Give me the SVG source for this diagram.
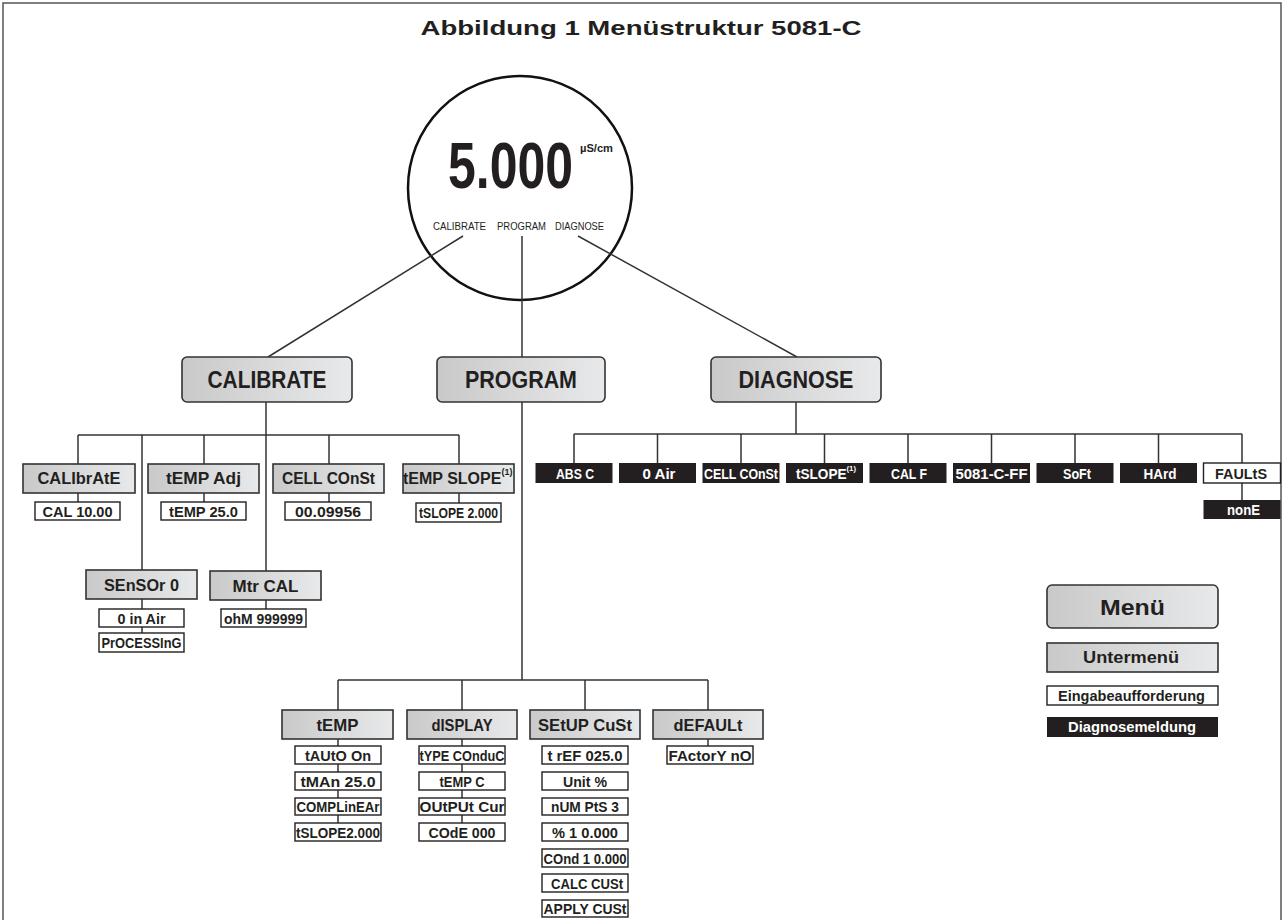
<svg xmlns="http://www.w3.org/2000/svg" width="1285" height="920" viewBox="0 0 1285 920">
<defs>
<linearGradient id="g" x1="0" y1="0" x2="1" y2="0">
<stop offset="0" stop-color="#c9c9ca"/>
<stop offset="1" stop-color="#e8e9ea"/>
</linearGradient>
<style>
.t{font-family:'Liberation Sans',Arial,sans-serif;font-weight:bold;text-anchor:middle;fill:#231f20}
.m{font-size:23px}
.s{font-size:17px}
.v{font-size:14px}
.d{font-size:14px;fill:#fff}
.sup{font-family:'Liberation Sans',Arial,sans-serif;font-weight:bold;font-size:8px;fill:#231f20}
.ln{stroke:#333;stroke-width:1.5;fill:none}
.mb{fill:url(#g);stroke:#333;stroke-width:1.6}
.vb{fill:#fff;stroke:#231f20;stroke-width:1.4}
.db{fill:#231f20}
.lbl{font-family:'Liberation Sans',Arial,sans-serif;font-size:10px;fill:#231f20}
</style>
</defs>
<rect width="1285" height="920" fill="#fff"/>
<path d="M3,920 V3 H1281 V920" fill="none" stroke="#555" stroke-width="1.5"/>
<text x="641" y="35" class="t" style="font-size:20px" textLength="441" lengthAdjust="spacingAndGlyphs">Abbildung 1 Menüstruktur 5081-C</text>

<g id="display">
<circle cx="520" cy="188" r="112" fill="none" stroke="#111" stroke-width="2.5"/>
<text transform="translate(448,188) scale(1,1.28)" x="0" y="0" class="t" style="font-size:50px;text-anchor:start" textLength="125" lengthAdjust="spacingAndGlyphs">5.000</text>
<text x="580" y="152" class="sup" style="font-size:10px" textLength="33" lengthAdjust="spacingAndGlyphs">µS/cm</text>
<text x="433" y="230" class="lbl" textLength="53" lengthAdjust="spacingAndGlyphs">CALIBRATE</text>
<text x="497" y="230" class="lbl" textLength="49" lengthAdjust="spacingAndGlyphs">PROGRAM</text>
<text x="555" y="230" class="lbl" textLength="49" lengthAdjust="spacingAndGlyphs">DIAGNOSE</text>
</g>

<g id="connectors" class="ln">
<line x1="463" y1="236" x2="268" y2="357"/>
<line x1="522" y1="236" x2="522" y2="357"/>
<line x1="578" y1="236" x2="797" y2="357"/>
<line x1="266" y1="402" x2="266" y2="571"/>
<line x1="78" y1="435" x2="459" y2="435"/>
<line x1="78" y1="435" x2="78" y2="464"/>
<line x1="142" y1="435" x2="142" y2="570"/>
<line x1="204" y1="435" x2="204" y2="464"/>
<line x1="329" y1="435" x2="329" y2="464"/>
<line x1="459" y1="435" x2="459" y2="464"/>
<line x1="78" y1="493" x2="78" y2="502"/>
<line x1="204" y1="493" x2="204" y2="502"/>
<line x1="329" y1="493" x2="329" y2="502"/>
<line x1="459" y1="493" x2="459" y2="503"/>
<line x1="142" y1="599" x2="142" y2="609"/>
<line x1="142" y1="627" x2="142" y2="633"/>
<line x1="266" y1="600" x2="266" y2="609"/>
<line x1="522" y1="402" x2="522" y2="680"/>
<line x1="338" y1="680" x2="708" y2="680"/>
<line x1="338" y1="680" x2="338" y2="710"/>
<line x1="462" y1="680" x2="462" y2="710"/>
<line x1="585" y1="680" x2="585" y2="710"/>
<line x1="708" y1="680" x2="708" y2="710"/>
<path d="M338,739V746M338,764V772M338,790V798M338,815V823"/>
<path d="M462,739V746M462,764V772M462,790V798M462,815V823"/>
<line x1="708" y1="739" x2="708" y2="746"/>
<line x1="796" y1="402" x2="796" y2="434"/>
<line x1="574" y1="434" x2="1242" y2="434"/>
<path d="M574,434V463M657.5,434V463M741,434V463M824.5,434V463M908,434V463M991.5,434V463M1075,434V463M1158.5,434V463M1242,434V463"/>
<line x1="1242" y1="483" x2="1242" y2="500"/>
</g>

<g id="calibrate"><rect class="mb" x="182" y="357" width="170" height="45" rx="5"/><text x="267" y="388" class="t m" textLength="119" lengthAdjust="spacingAndGlyphs">CALIBRATE</text></g>
<g id="program"><rect class="mb" x="437" y="357" width="168" height="45" rx="5"/><text x="521" y="388" class="t m" textLength="112" lengthAdjust="spacingAndGlyphs">PROGRAM</text></g>
<g id="diagnose"><rect class="mb" x="711" y="357" width="170" height="45" rx="5"/><text x="796" y="388" class="t m" textLength="115" lengthAdjust="spacingAndGlyphs">DIAGNOSE</text></g>

<g id="cal-calibrate"><rect class="mb" x="23" y="464" width="112" height="29"/><text x="79" y="484" class="t s" textLength="83" lengthAdjust="spacingAndGlyphs">CALIbrAtE</text></g>
<g id="cal-tempadj"><rect class="mb" x="148" y="464" width="111" height="29"/><text x="203.5" y="484" class="t s" textLength="75" lengthAdjust="spacingAndGlyphs">tEMP Adj</text></g>
<g id="cal-cellconst"><rect class="mb" x="273" y="464" width="111" height="29"/><text x="328.5" y="484" class="t s" textLength="93" lengthAdjust="spacingAndGlyphs">CELL COnSt</text></g>
<g id="cal-tempslope"><rect class="mb" x="403" y="464" width="111" height="29"/><text x="403" y="484" class="t" style="font-size:16px;text-anchor:start">tEMP SLOPE<tspan dy="-9" style="font-size:9px">(1)</tspan></text></g>
<g id="cal-sensor"><rect class="mb" x="86" y="570" width="111" height="29"/><text x="141.5" y="591" class="t s" textLength="75" lengthAdjust="spacingAndGlyphs">SEnSOr 0</text></g>
<g id="cal-mtrcal"><rect class="mb" x="210" y="571" width="111" height="29"/><text x="265.5" y="592" class="t s" textLength="66" lengthAdjust="spacingAndGlyphs">Mtr CAL</text></g>

<g id="v-cal1000"><rect class="vb" x="35" y="502" width="85" height="18"/><text x="77.5" y="517" class="t v" textLength="70" lengthAdjust="spacingAndGlyphs">CAL 10.00</text></g>
<g id="v-temp250"><rect class="vb" x="161" y="502" width="85" height="18"/><text x="203.5" y="517" class="t v" textLength="69" lengthAdjust="spacingAndGlyphs">tEMP 25.0</text></g>
<g id="v-cellconst"><rect class="vb" x="285" y="502" width="86" height="18"/><text x="328" y="517" class="t v" textLength="66" lengthAdjust="spacingAndGlyphs">00.09956</text></g>
<g id="v-tslope"><rect class="vb" x="416" y="503" width="85" height="19"/><text x="458.5" y="518" class="t v" textLength="79" lengthAdjust="spacingAndGlyphs">tSLOPE 2.000</text></g>
<g id="v-0inair"><rect class="vb" x="99" y="609" width="85" height="18"/><text x="141.5" y="624" class="t v" textLength="48" lengthAdjust="spacingAndGlyphs">0 in Air</text></g>
<g id="v-processing"><rect class="vb" x="99" y="633" width="85" height="19"/><text x="141.5" y="648" class="t v" textLength="80" lengthAdjust="spacingAndGlyphs">PrOCESSInG</text></g>
<g id="v-ohm"><rect class="vb" x="221" y="609" width="85" height="18"/><text x="263.5" y="624" class="t v" textLength="79" lengthAdjust="spacingAndGlyphs">ohM 999999</text></g>

<g id="prog-temp"><rect class="mb" x="282" y="710" width="111" height="29"/><text x="337.5" y="731" class="t s" textLength="42" lengthAdjust="spacingAndGlyphs">tEMP</text></g>
<g id="prog-display"><rect class="mb" x="407" y="710" width="110" height="29"/><text x="462" y="731" class="t s" textLength="61" lengthAdjust="spacingAndGlyphs">dISPLAY</text></g>
<g id="prog-setup"><rect class="mb" x="530" y="710" width="110" height="29"/><text x="585" y="731" class="t s" textLength="94" lengthAdjust="spacingAndGlyphs">SEtUP CuSt</text></g>
<g id="prog-default"><rect class="mb" x="653" y="710" width="110" height="29"/><text x="708" y="731" class="t s" textLength="69" lengthAdjust="spacingAndGlyphs">dEFAULt</text></g>

<g id="pv-tauto"><rect class="vb" x="295" y="746" width="86" height="18"/><text x="338" y="760.5" class="t v" textLength="66" lengthAdjust="spacingAndGlyphs">tAUtO On</text></g>
<g id="pv-tman"><rect class="vb" x="295" y="772" width="86" height="18"/><text x="338" y="786.5" class="t v" textLength="75" lengthAdjust="spacingAndGlyphs">tMAn 25.0</text></g>
<g id="pv-comp"><rect class="vb" x="295" y="798" width="86" height="17"/><text x="338" y="812" class="t v" textLength="83" lengthAdjust="spacingAndGlyphs">COMPLinEAr</text></g>
<g id="pv-tslope"><rect class="vb" x="295" y="823" width="86" height="18"/><text x="338" y="837.5" class="t v" textLength="84" lengthAdjust="spacingAndGlyphs">tSLOPE2.000</text></g>

<g id="pv-type"><rect class="vb" x="419" y="746" width="86" height="18"/><text x="462" y="760.5" class="t v" textLength="85" lengthAdjust="spacingAndGlyphs">tYPE COnduC</text></g>
<g id="pv-tempc"><rect class="vb" x="419" y="772" width="86" height="18"/><text x="462" y="786.5" class="t v" textLength="45" lengthAdjust="spacingAndGlyphs">tEMP C</text></g>
<g id="pv-output"><rect class="vb" x="419" y="798" width="86" height="17"/><text x="462" y="812" class="t v" textLength="85" lengthAdjust="spacingAndGlyphs">OUtPUt Cur</text></g>
<g id="pv-code"><rect class="vb" x="419" y="823" width="86" height="18"/><text x="462" y="837.5" class="t v" textLength="67" lengthAdjust="spacingAndGlyphs">COdE 000</text></g>

<g id="pv-tref"><rect class="vb" x="542" y="746" width="86" height="18"/><text x="585" y="760.5" class="t v" textLength="75" lengthAdjust="spacingAndGlyphs">t rEF 025.0</text></g>
<g id="pv-unit"><rect class="vb" x="542" y="772" width="86" height="18"/><text x="585" y="786.5" class="t v" textLength="44" lengthAdjust="spacingAndGlyphs">Unit %</text></g>
<g id="pv-num"><rect class="vb" x="542" y="798" width="86" height="17"/><text x="585" y="812" class="t v" textLength="68" lengthAdjust="spacingAndGlyphs">nUM PtS 3</text></g>
<g id="pv-pct"><rect class="vb" x="542" y="823" width="86" height="18"/><text x="585" y="837.5" class="t v" textLength="66" lengthAdjust="spacingAndGlyphs">% 1 0.000</text></g>
<g id="pv-cond"><rect class="vb" x="542" y="849" width="86" height="18"/><text x="585" y="863.5" class="t v" textLength="83" lengthAdjust="spacingAndGlyphs">COnd 1 0.000</text></g>
<g id="pv-calc"><rect class="vb" x="542" y="874" width="86" height="18"/><text x="587" y="888.5" class="t v" textLength="72" lengthAdjust="spacingAndGlyphs">CALC CUSt</text></g>
<g id="pv-apply"><rect class="vb" x="542" y="900" width="86" height="17"/><text x="585" y="914" class="t v" textLength="83" lengthAdjust="spacingAndGlyphs">APPLY CUSt</text></g>

<g id="pv-factory"><rect class="vb" x="667" y="746" width="86" height="18"/><text x="710" y="760.5" class="t v" textLength="83" lengthAdjust="spacingAndGlyphs">FActorY nO</text></g>

<g id="d-absc"><rect class="db" x="535.5" y="463" width="77" height="20"/><text x="575" y="479" class="t d" textLength="38" lengthAdjust="spacingAndGlyphs">ABS C</text></g>
<g id="d-0air"><rect class="db" x="619" y="463" width="77" height="20"/><text x="659" y="479" class="t d" textLength="33" lengthAdjust="spacingAndGlyphs">0 Air</text></g>
<g id="d-cell"><rect class="db" x="702.5" y="463" width="77" height="20"/><text x="741" y="479" class="t d" textLength="74" lengthAdjust="spacingAndGlyphs">CELL COnSt</text></g>
<g id="d-tslope"><rect class="db" x="786" y="463" width="77" height="20"/><text x="796" y="479" class="t d" style="text-anchor:start" textLength="60" lengthAdjust="spacingAndGlyphs">tSLOPE<tspan dy="-8" style="font-size:8px">(1)</tspan></text></g>
<g id="d-calf"><rect class="db" x="869.5" y="463" width="77" height="20"/><text x="909" y="479" class="t d" textLength="36" lengthAdjust="spacingAndGlyphs">CAL F</text></g>
<g id="d-5081"><rect class="db" x="953" y="463" width="77" height="20"/><text x="991.5" y="479" class="t d" textLength="72" lengthAdjust="spacingAndGlyphs">5081-C-FF</text></g>
<g id="d-soft"><rect class="db" x="1036.5" y="463" width="77" height="20"/><text x="1077" y="479" class="t d" textLength="28" lengthAdjust="spacingAndGlyphs">SoFt</text></g>
<g id="d-hard"><rect class="db" x="1120" y="463" width="77" height="20"/><text x="1160" y="479" class="t d" textLength="33" lengthAdjust="spacingAndGlyphs">HArd</text></g>
<g id="d-faults"><rect class="vb" x="1203.5" y="463" width="77" height="20"/><text x="1241" y="479" class="t v" textLength="52" lengthAdjust="spacingAndGlyphs">FAULtS</text></g>
<g id="d-none"><rect class="db" x="1203.5" y="500" width="77" height="19"/><text x="1243.5" y="515" class="t d" textLength="33" lengthAdjust="spacingAndGlyphs">nonE</text></g>

<g id="legend-menu"><rect class="mb" x="1047" y="585" width="171" height="43" rx="5"/><text x="1132.5" y="615" class="t" style="font-size:22px" textLength="65" lengthAdjust="spacingAndGlyphs">Menü</text></g>
<g id="legend-sub"><rect class="mb" x="1047" y="643" width="171" height="29"/><text x="1131" y="663" class="t s" textLength="96" lengthAdjust="spacingAndGlyphs">Untermenü</text></g>
<g id="legend-input"><rect class="vb" x="1047" y="686" width="171" height="19"/><text x="1131.5" y="700.5" class="t v" textLength="147" lengthAdjust="spacingAndGlyphs">Eingabeaufforderung</text></g>
<g id="legend-diag"><rect class="db" x="1047" y="717" width="171" height="20"/><text x="1132" y="732" class="t d" textLength="128" lengthAdjust="spacingAndGlyphs">Diagnosemeldung</text></g>
</svg>
